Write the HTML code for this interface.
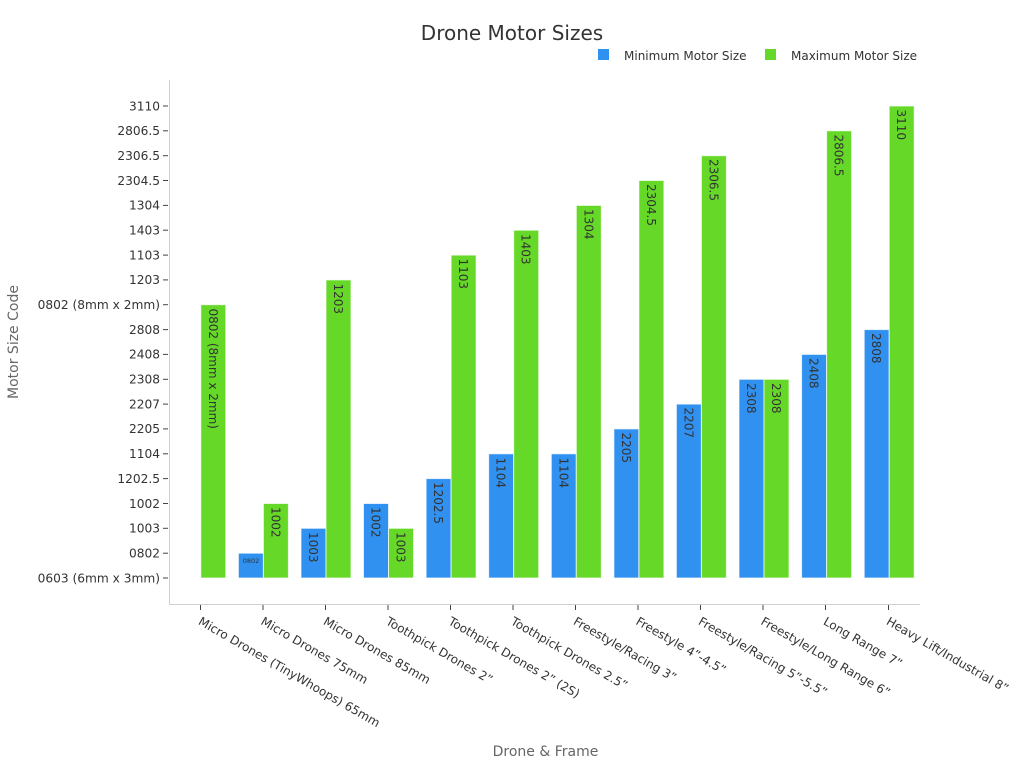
<!DOCTYPE html>
<html>
<head>
<meta charset="utf-8">
<style>
html,body{margin:0;padding:0;background:#fff;}
svg{display:block;font-family:"DejaVu Sans","Liberation Sans",sans-serif;}
</style>
</head>
<body>
<svg width="1024" height="768" viewBox="0 0 1024 768" xmlns="http://www.w3.org/2000/svg">
<rect width="1024" height="768" fill="#fff"/>
<text x="512" y="40" text-anchor="middle" font-size="20" fill="#333">Drone Motor Sizes</text>
<!-- legend -->
<rect x="598" y="49" width="11" height="11" fill="#3091f0"/>
<text x="624" y="60" font-size="12" fill="#333">Minimum Motor Size</text>
<rect x="765" y="49" width="11" height="11" fill="#66d928"/>
<text x="791" y="60" font-size="12" fill="#333">Maximum Motor Size</text>

<!-- axes -->
<line x1="169.5" y1="80" x2="169.5" y2="604.5" stroke="#d0d0d0" stroke-width="1"/>
<line x1="169.5" y1="604.5" x2="920" y2="604.5" stroke="#d0d0d0" stroke-width="1"/>

<!-- y ticks and labels -->
<g font-size="12.2" fill="#333" text-anchor="end" stroke="none">
<text x="160" y="582.3">0603 (6mm x 3mm)</text>
<text x="160" y="557.5">0802</text>
<text x="160" y="532.6">1003</text>
<text x="160" y="507.8">1002</text>
<text x="160" y="482.9">1202.5</text>
<text x="160" y="458.1">1104</text>
<text x="160" y="433.2">2205</text>
<text x="160" y="408.4">2207</text>
<text x="160" y="383.6">2308</text>
<text x="160" y="358.7">2408</text>
<text x="160" y="333.9">2808</text>
<text x="160" y="309">0802 (8mm x 2mm)</text>
<text x="160" y="284.2">1203</text>
<text x="160" y="259.4">1103</text>
<text x="160" y="234.5">1403</text>
<text x="160" y="209.7">1304</text>
<text x="160" y="184.8">2304.5</text>
<text x="160" y="160">2306.5</text>
<text x="160" y="135.1">2806.5</text>
<text x="160" y="110.3">3110</text>
</g>
<g stroke="#444" stroke-width="1">
<line x1="163" x2="168" y1="578" y2="578"/>
<line x1="163" x2="168" y1="553.2" y2="553.2"/>
<line x1="163" x2="168" y1="528.3" y2="528.3"/>
<line x1="163" x2="168" y1="503.5" y2="503.5"/>
<line x1="163" x2="168" y1="478.6" y2="478.6"/>
<line x1="163" x2="168" y1="453.8" y2="453.8"/>
<line x1="163" x2="168" y1="428.9" y2="428.9"/>
<line x1="163" x2="168" y1="404.1" y2="404.1"/>
<line x1="163" x2="168" y1="379.3" y2="379.3"/>
<line x1="163" x2="168" y1="354.4" y2="354.4"/>
<line x1="163" x2="168" y1="329.6" y2="329.6"/>
<line x1="163" x2="168" y1="304.7" y2="304.7"/>
<line x1="163" x2="168" y1="279.9" y2="279.9"/>
<line x1="163" x2="168" y1="255.1" y2="255.1"/>
<line x1="163" x2="168" y1="230.2" y2="230.2"/>
<line x1="163" x2="168" y1="205.4" y2="205.4"/>
<line x1="163" x2="168" y1="180.5" y2="180.5"/>
<line x1="163" x2="168" y1="155.7" y2="155.7"/>
<line x1="163" x2="168" y1="130.8" y2="130.8"/>
<line x1="163" x2="168" y1="106" y2="106"/>
</g>

<!-- x ticks -->
<g stroke="#444" stroke-width="1">
<line x1="200.5" x2="200.5" y1="605" y2="610"/>
<line x1="263" x2="263" y1="605" y2="610"/>
<line x1="325.5" x2="325.5" y1="605" y2="610"/>
<line x1="388" x2="388" y1="605" y2="610"/>
<line x1="450.5" x2="450.5" y1="605" y2="610"/>
<line x1="513" x2="513" y1="605" y2="610"/>
<line x1="575.5" x2="575.5" y1="605" y2="610"/>
<line x1="638" x2="638" y1="605" y2="610"/>
<line x1="700.5" x2="700.5" y1="605" y2="610"/>
<line x1="763" x2="763" y1="605" y2="610"/>
<line x1="825.5" x2="825.5" y1="605" y2="610"/>
<line x1="888.5" x2="888.5" y1="605" y2="610"/>
</g>

<!-- bars -->
<g stroke="rgba(255,255,255,0.7)" stroke-width="1">
<rect x="200.8" y="304.7" width="25" height="273.3" fill="#66d928"/>
<rect x="238.4" y="553.2" width="25" height="24.8" fill="#3091f0"/>
<rect x="263.4" y="503.5" width="25" height="74.5" fill="#66d928"/>
<rect x="301" y="528.3" width="25" height="49.7" fill="#3091f0"/>
<rect x="326" y="279.9" width="25" height="298.1" fill="#66d928"/>
<rect x="363.5" y="503.5" width="25" height="74.5" fill="#3091f0"/>
<rect x="388.5" y="528.3" width="25" height="49.7" fill="#66d928"/>
<rect x="426.1" y="478.6" width="25" height="99.4" fill="#3091f0"/>
<rect x="451.1" y="255.1" width="25" height="322.9" fill="#66d928"/>
<rect x="488.7" y="453.8" width="25" height="124.2" fill="#3091f0"/>
<rect x="513.7" y="230.2" width="25" height="347.8" fill="#66d928"/>
<rect x="551.3" y="453.8" width="25" height="124.2" fill="#3091f0"/>
<rect x="576.3" y="205.4" width="25" height="372.6" fill="#66d928"/>
<rect x="613.9" y="428.9" width="25" height="149.1" fill="#3091f0"/>
<rect x="638.9" y="180.5" width="25" height="397.5" fill="#66d928"/>
<rect x="676.4" y="404.1" width="25" height="173.9" fill="#3091f0"/>
<rect x="701.4" y="155.7" width="25" height="422.3" fill="#66d928"/>
<rect x="739" y="379.3" width="25" height="198.7" fill="#3091f0"/>
<rect x="764" y="379.3" width="25" height="198.7" fill="#66d928"/>
<rect x="801.6" y="354.4" width="25" height="223.6" fill="#3091f0"/>
<rect x="826.6" y="130.8" width="25" height="447.2" fill="#66d928"/>
<rect x="864.2" y="329.6" width="25" height="248.4" fill="#3091f0"/>
<rect x="889.2" y="106" width="25" height="472" fill="#66d928"/>
</g>

<!-- bar labels -->
<g font-size="12" fill="#333">
<text transform="translate(209,308.5) rotate(90)">0802 (8mm x 2mm)</text>
<text x="251" y="563" font-size="6.5" text-anchor="middle">0802</text>
<text transform="translate(271.5,507) rotate(90)">1002</text>
<text transform="translate(309,532) rotate(90)">1003</text>
<text transform="translate(334,283.5) rotate(90)">1203</text>
<text transform="translate(371.5,507) rotate(90)">1002</text>
<text transform="translate(396.5,532) rotate(90)">1003</text>
<text transform="translate(434,482) rotate(90)">1202.5</text>
<text transform="translate(459,258.5) rotate(90)">1103</text>
<text transform="translate(496.7,457.5) rotate(90)">1104</text>
<text transform="translate(521.7,234) rotate(90)">1403</text>
<text transform="translate(559.3,457.5) rotate(90)">1104</text>
<text transform="translate(584.3,209) rotate(90)">1304</text>
<text transform="translate(622,432.5) rotate(90)">2205</text>
<text transform="translate(647,184) rotate(90)">2304.5</text>
<text transform="translate(684.4,407.5) rotate(90)">2207</text>
<text transform="translate(709.4,159) rotate(90)">2306.5</text>
<text transform="translate(747,383) rotate(90)">2308</text>
<text transform="translate(772,383) rotate(90)">2308</text>
<text transform="translate(809.6,358) rotate(90)">2408</text>
<text transform="translate(834.6,134.5) rotate(90)">2806.5</text>
<text transform="translate(872.2,333) rotate(90)">2808</text>
<text transform="translate(897.2,109.5) rotate(90)">3110</text>
</g>

<!-- x labels -->
<g font-size="12" fill="#333">
<text transform="translate(202,616) rotate(30)" dy="0.75em">Micro Drones (TinyWhoops) 65mm</text>
<text transform="translate(264.5,616) rotate(30)" dy="0.75em">Micro Drones 75mm</text>
<text transform="translate(327,616) rotate(30)" dy="0.75em">Micro Drones 85mm</text>
<text transform="translate(389.5,616) rotate(30)" dy="0.75em">Toothpick Drones 2”</text>
<text transform="translate(452,616) rotate(30)" dy="0.75em">Toothpick Drones 2” (2S)</text>
<text transform="translate(514.5,616) rotate(30)" dy="0.75em">Toothpick Drones 2.5”</text>
<text transform="translate(577,616) rotate(30)" dy="0.75em">Freestyle/Racing 3”</text>
<text transform="translate(639.5,616) rotate(30)" dy="0.75em">Freestyle 4”-4.5”</text>
<text transform="translate(702,616) rotate(30)" dy="0.75em">Freestyle/Racing 5”-5.5”</text>
<text transform="translate(764.5,616) rotate(30)" dy="0.75em">Freestyle/Long Range 6”</text>
<text transform="translate(827,616) rotate(30)" dy="0.75em">Long Range 7”</text>
<text transform="translate(890,616) rotate(30)" dy="0.75em">Heavy Lift/Industrial 8”</text>
</g>

<!-- axis titles -->
<text x="545.5" y="756" text-anchor="middle" font-size="14" fill="#666">Drone &amp; Frame</text>
<text transform="translate(18,342) rotate(-90)" text-anchor="middle" font-size="14" fill="#666">Motor Size Code</text>
</svg>
</body>
</html>
